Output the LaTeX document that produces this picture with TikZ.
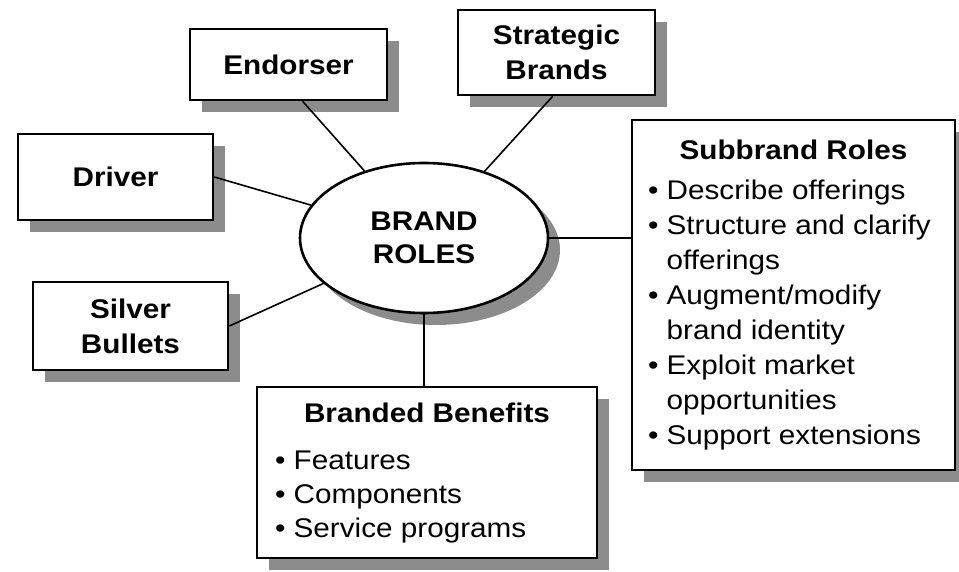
\documentclass[tikz,border=0pt]{standalone}
\usepackage{fontspec}
\setmainfont{Liberation Sans}[FakeStretch=1.1]
\usetikzlibrary{shapes.geometric,shadows}

% bullet lines for the list boxes
\newcommand{\bitem}[1]{\textbullet\ #1}
\newcommand{\bcont}[1]{\phantom{\textbullet\ }#1}

\tikzset{
  shade/.style={drop shadow={shadow xshift=12pt,shadow yshift=-12pt,fill=black!45,opacity=1}},
  rolebox/.style={draw,line width=2.6pt,fill=white,align=center,font=\fontsize{27}{35}\selectfont\bfseries,inner sep=0pt,shade},
  listbox/.style={draw,line width=2.6pt,fill=white,inner sep=0pt,shade},
  link/.style={line width=1.6pt}
}

\begin{document}
\begin{tikzpicture}[x=1pt,y=-1pt,font=\fontsize{27}{35}\selectfont]
	\useasboundingbox (0,0) rectangle (959,572);

	% centre
	\node[ellipse,draw,line width=2.6pt,fill=white,shade,minimum width=248pt,minimum height=150pt,
	      inner sep=0pt,align=center,font=\fontsize{27}{33}\selectfont\bfseries] (role) at (424,238) {BRAND\\ROLES};

	% the single roles
	\node[rolebox,minimum width=197pt,minimum height=71pt] (ends) at (288.5,64.5) {Endorser};
	\node[rolebox,minimum width=197pt,minimum height=85pt] (strat) at (556.5,52.5) {Strategic\\Brands};
	\node[rolebox,minimum width=195pt,minimum height=86pt] (drv) at (115.5,177) {Driver};
	\node[rolebox,minimum width=195pt,minimum height=88pt] (silv) at (130.5,326) {Silver\\Bullets};

	% the list boxes
	\node[listbox,minimum width=323pt,minimum height=350pt] (sub) at (793.5,295) {%
		\begin{tabular}{@{}p{291pt}@{}}
			\multicolumn{1}{@{}c@{}}{\bfseries Subbrand Roles}\\[5pt]
			\bitem{Describe offerings}\\
			\bitem{Structure and clarify}\\
			\bcont{offerings}\\
			\bitem{Augment/modify}\\
			\bcont{brand identity}\\
			\bitem{Exploit market}\\
			\bcont{opportunities}\\
			\bitem{Support extensions}
		\end{tabular}};
	\node[listbox,minimum width=340pt,minimum height=171pt] (bb) at (427,472.5) {%
		\begin{tabular}{@{}p{304pt}@{}}
			\multicolumn{1}{@{}c@{}}{\bfseries Branded Benefits}\\[12pt]
			\bitem{Features}\\[-1pt]
			\bitem{Components}\\[-1pt]
			\bitem{Service programs}
		\end{tabular}};

	% spokes
	\draw[link] (ends.-69) -- (role);
	\draw[link] (strat.-95) -- (role);
	\draw[link] (drv.east) -- (role);
	\draw[link] (silv.east) -- (role);
	\draw[link] (role.east) -- (role.east -| sub.west);
	\draw[link] (role.south) -- (role.south |- bb.north);
\end{tikzpicture}
\end{document}
